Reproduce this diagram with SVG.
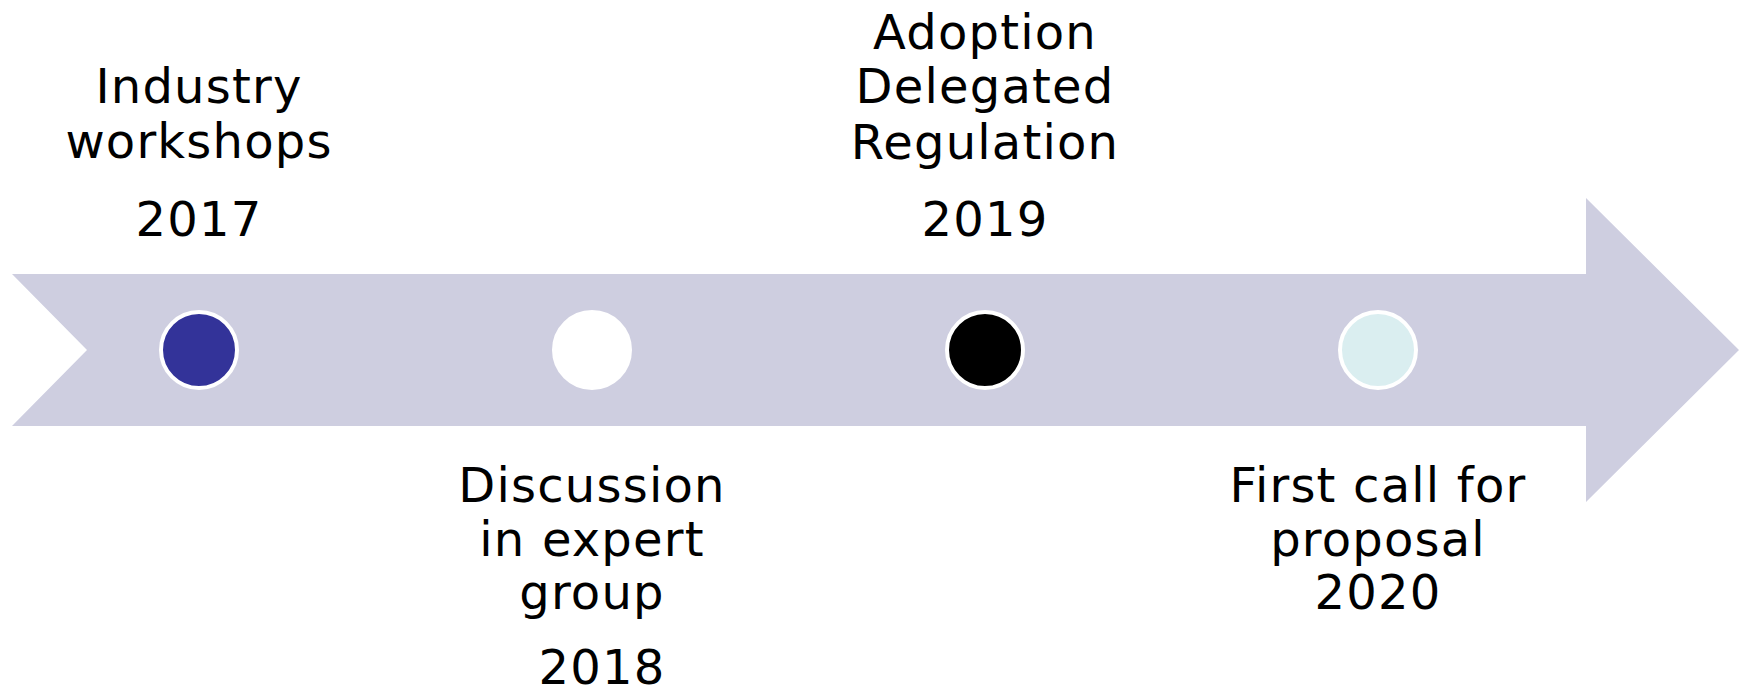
<svg xmlns="http://www.w3.org/2000/svg" width="1743" height="689" viewBox="0 0 1743 689">
<style>
.t{font-family:"DejaVu Sans","Verdana",sans-serif;font-size:48px;letter-spacing:1.2px;fill:#000;text-anchor:middle}
.dot{stroke:#fff;stroke-width:4}
</style>
<rect width="1743" height="689" fill="#fff"/>
<g id="arrow">
<polygon points="12,274 1586,274 1586,198 1739,350 1586,502 1586,426 12,426 87,350" fill="#CECEE0"/>
</g>
<g id="connectors"></g>
<g id="n2017">
<circle class="dot" cx="199" cy="350" r="38" fill="#333399"/>
<text class="t" x="199" y="103">Industry</text>
<text class="t" x="199" y="158">workshops</text>
<text class="t" x="199" y="236">2017</text>
</g>
<g id="n2018">
<circle class="dot" cx="592" cy="350" r="38" fill="#FFFFFF"/>
<text class="t" x="592" y="502">Discussion</text>
<text class="t" x="592" y="556">in expert</text>
<text class="t" x="592" y="609">group</text>
<text class="t" x="602" y="684">2018</text>
</g>
<g id="n2019">
<circle class="dot" cx="985" cy="350" r="38" fill="#000000"/>
<text class="t" x="985" y="49">Adoption</text>
<text class="t" x="985" y="103">Delegated</text>
<text class="t" x="985" y="159">Regulation</text>
<text class="t" x="985" y="236">2019</text>
</g>
<g id="n2020">
<circle class="dot" cx="1378" cy="350" r="38" fill="#DAEEF0"/>
<text class="t" x="1378" y="502">First call for</text>
<text class="t" x="1378" y="556">proposal</text>
<text class="t" x="1378" y="609">2020</text>
</g>
</svg>
